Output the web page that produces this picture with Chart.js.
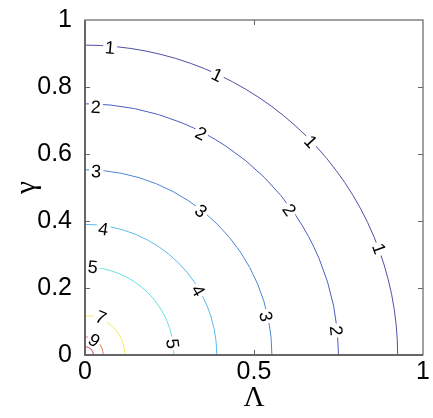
<!DOCTYPE html>
<html>
<head>
<meta charset="utf-8">
<script src="https://cdn.jsdelivr.net/npm/chart.js@4.4.0/dist/chart.umd.min.js"></script>
<style>
  body { margin: 0; background: #fff; }
  #wrap { width: 433px; height: 418px; }
</style>
</head>
<body>
<div id="wrap"><canvas id="myChart" width="433" height="418"></canvas></div>
<script>
'use strict'

// contour levels and their radius
const levels = [1, 2, 3, 4, 5, 7, 9, 10];
const radius = [0.925, 0.75, 0.553, 0.39, 0.263, 0.118, 0.054, 0.025];
const levelColors = ['#4f4fa6', '#4c5ec0', '#4c86d2', '#5cbaea', '#66e2e2', '#f2ec6c', '#de7e5e', '#c04646'];

// inline contour labels
const labelText = ['1', '1', '1', '1', '2', '2', '2', '2', '3', '3', '3', '4', '4', '5', '5', '7', '9'];
const labelX = [0.074, 0.391, 0.668, 0.870, 0.032, 0.343, 0.604, 0.743, 0.033, 0.343, 0.535, 0.054, 0.335, 0.023, 0.259, 0.047, 0.027];
const labelY = [0.917, 0.836, 0.637, 0.317, 0.740, 0.661, 0.433, 0.073, 0.548, 0.430, 0.115, 0.376, 0.192, 0.263, 0.034, 0.112, 0.044];

// tick labels
const xTicks = [0, 0.5, 1];
const xTickText = ['0', '0.5', '1'];
const yTicks = [0, 0.2, 0.4, 0.6, 0.8, 1];
const yTickText = ['0', '0.2', '0.4', '0.6', '0.8', '1'];

const ctx = document.getElementById('myChart').getContext('2d');

// draws the quarter circles, the labels on them and the box
const contourPlugin = {
    id: 'contours',
    beforeDatasetsDraw(chart) {
        const c = chart.ctx;
        const xs = chart.scales.x;
        const ys = chart.scales.y;
        const area = chart.chartArea;
        const cx = xs.getPixelForValue(0);
        const cy = ys.getPixelForValue(0);

        c.save();
        c.beginPath();
        c.rect(area.left, area.top, area.right - area.left, area.bottom - area.top);
        c.clip();
        c.lineWidth = 1;
        for (let i = 0; i < levels.length; i++) {
            const rx = xs.getPixelForValue(radius[i]) - cx;
            const ry = cy - ys.getPixelForValue(radius[i]);
            c.strokeStyle = levelColors[i];
            c.beginPath();
            c.ellipse(cx, cy, rx, ry, 0, -Math.PI / 2, 0);
            c.stroke();
        }

        // labels with a white gap in the line
        c.font = '18px "Liberation Sans", Arial, sans-serif';
        c.textAlign = 'center';
        c.textBaseline = 'middle';
        for (let i = 0; i < labelText.length; i++) {
            const px = xs.getPixelForValue(labelX[i]);
            const py = ys.getPixelForValue(labelY[i]);
            const ang = Math.atan2(cy - py, px - cx);
            const w = c.measureText(labelText[i]).width;
            c.save();
            c.translate(px, py);
            c.rotate(Math.PI / 2 - ang);
            c.fillStyle = '#fff';
            c.fillRect(-w / 2 - 2, -6, w + 4, 12);
            c.fillStyle = '#000';
            c.fillText(labelText[i], 0, 1);
            c.restore();
        }
        c.restore();

        // axis box and inward ticks
        c.save();
        c.strokeStyle = '#444';
        c.lineWidth = 1;
        c.strokeRect(area.left, area.top, area.right - area.left, area.bottom - area.top);
        c.strokeStyle = '#666';
        c.lineWidth = 2;
        c.beginPath();
        c.moveTo(area.left, area.top);
        c.lineTo(area.left, area.bottom);
        c.lineTo(area.right, area.bottom);
        c.stroke();
        c.lineWidth = 1;
        c.beginPath();
        for (let i = 1; i < xTicks.length - 1; i++) {
            const px = Math.round(xs.getPixelForValue(xTicks[i])) + 0.5;
            c.moveTo(px, area.bottom);
            c.lineTo(px, area.bottom - 5);
            c.moveTo(px, area.top);
            c.lineTo(px, area.top + 5);
        }
        for (let i = 1; i < yTicks.length - 1; i++) {
            const py = Math.round(ys.getPixelForValue(yTicks[i])) + 0.5;
            c.moveTo(area.left, py);
            c.lineTo(area.left + 5, py);
            c.moveTo(area.right, py);
            c.lineTo(area.right - 5, py);
        }
        c.stroke();
        c.restore();
    }
};

const tickFont = { family: '"Liberation Sans", Arial, sans-serif', size: 25 };
const titleFont = { family: '"Liberation Serif", "Times New Roman", serif', size: 29 };

const myChart = new Chart(ctx, {
    type: 'scatter',
    data: {
        datasets: [{
            label: 'labels',
            data: labelX.map((x, i) => ({ x: x, y: labelY[i] })),
            pointRadius: 0,
            showLine: false
        }]
    },
    options: {
        responsive: false,
        animation: false,
        events: [],
        layout: { padding: { top: 17, right: 10, left: 0, bottom: 0 } },
        plugins: {
            legend: { display: false },
            tooltip: { enabled: false }
        },
        scales: {
            x: {
                type: 'linear',
                min: 0,
                max: 1,
                afterBuildTicks: (scale) => { scale.ticks = xTicks.map(v => ({ value: v })); },
                afterFit: (scale) => { scale.height = 63; },
                grid: { display: false },
                border: { display: false },
                ticks: {
                    font: tickFont,
                    color: '#000',
                    padding: -6,
                    maxRotation: 0,
                    callback: (v) => xTickText[xTicks.indexOf(v)]
                },
                title: { display: true, text: 'Λ', font: titleFont, color: '#000', padding: { top: 0, bottom: 2 } }
            },
            y: {
                type: 'linear',
                min: 0,
                max: 1,
                afterBuildTicks: (scale) => { scale.ticks = yTicks.map(v => ({ value: v })); },
                afterFit: (scale) => { scale.width = 85; },
                grid: { display: false },
                border: { display: false },
                ticks: {
                    font: tickFont,
                    color: '#000',
                    padding: 5,
                    callback: (v) => yTickText[yTicks.indexOf(v)]
                },
                title: { display: true, text: 'γ', font: titleFont, color: '#000', padding: { top: 10, bottom: 0 } }
            }
        }
    },
    plugins: [contourPlugin]
});
</script>
</body>
</html>
